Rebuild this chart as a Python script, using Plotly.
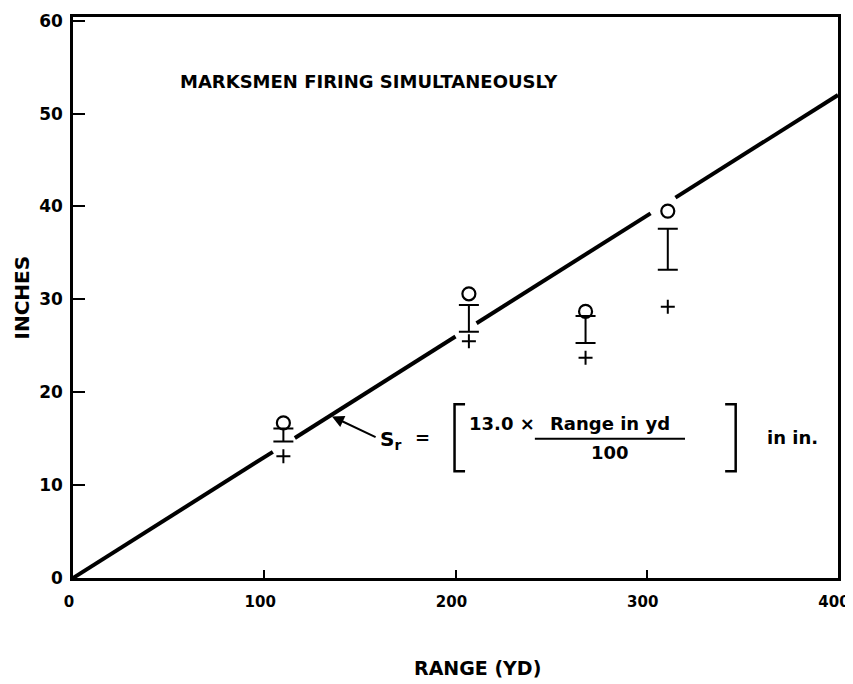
import plotly.graph_objects as go

# ---- data ----
range_yd = [110, 207, 268, 311]
circle_in = [16.7, 30.6, 28.7, 39.5]
bar_top_in = [16.1, 29.4, 28.2, 37.6]
bar_bottom_in = [14.7, 26.5, 25.3, 33.2]
plus_in = [13.1, 25.5, 23.7, 29.2]

slope_per_100yd = 13.0
line_segments = [(0, 104.5), (116, 200), (211, 302), (315, 400)]

x_ticks = [0, 100, 200, 300, 400]
y_ticks = [0, 10, 20, 30, 40, 50, 60]

FONT = "DejaVu Sans"

fig = go.Figure()

# fitted line S_r = 13.0 * range / 100, drawn with gaps near the points
lx, ly = [], []
for a, b in line_segments:
    lx += [a, b, None]
    ly += [slope_per_100yd * a / 100, slope_per_100yd * b / 100, None]
fig.add_trace(go.Scatter(x=lx, y=ly, mode="lines",
                         line=dict(color="black", width=4), hoverinfo="skip"))

# I-bars
mid = [(t + b) / 2 for t, b in zip(bar_top_in, bar_bottom_in)]
half = [(t - b) / 2 for t, b in zip(bar_top_in, bar_bottom_in)]
fig.add_trace(go.Scatter(x=range_yd, y=mid, mode="markers",
                         marker=dict(size=1, color="rgba(0,0,0,0)"),
                         error_y=dict(type="data", array=half, symmetric=True,
                                      color="black", thickness=2, width=10)))

# open circles
fig.add_trace(go.Scatter(x=range_yd, y=circle_in, mode="markers",
                         marker=dict(symbol="circle-open", size=13, color="black",
                                     line=dict(width=2.2, color="black"))))

# plus marks
fig.add_trace(go.Scatter(x=range_yd, y=plus_in, mode="markers",
                         marker=dict(symbol="cross-thin-open", size=10, color="black",
                                     line=dict(width=2, color="black"))))

tfont = dict(family=FONT, size=18, color="black")

ann = []
ann.append(dict(x=55, y=53.5, xref="x", yref="y", text="<b>MARKSMEN FIRING SIMULTANEOUSLY</b>",
                showarrow=False, xanchor="left", yanchor="middle",
                font=dict(family=FONT, size=18, color="black")))
# arrow to the line
ann.append(dict(x=135.4, y=17.4, ax=159, ay=15.1, xref="x", yref="y", axref="x", ayref="y",
                text="", showarrow=True, arrowhead=2, arrowsize=1.2, arrowwidth=2,
                arrowcolor="black"))
ann.append(dict(x=166, y=14.9, xref="x", yref="y", text="<b>S<sub>r</sub></b>",
                showarrow=False, font=dict(family=FONT, size=20, color="black")))
ann.append(dict(x=183, y=15.1, xref="x", yref="y", text="<b>=</b>",
                showarrow=False, font=dict(family=FONT, size=18, color="black")))
ann.append(dict(x=206, y=16.6, xref="x", yref="y", text="<b>13.0 ×</b>",
                showarrow=False, xanchor="left", font=tfont))
ann.append(dict(x=281, y=16.6, xref="x", yref="y", text="<b>Range in yd</b>",
                showarrow=False, font=tfont))
ann.append(dict(x=281, y=13.5, xref="x", yref="y", text="<b>100</b>",
                showarrow=False, font=tfont))
ann.append(dict(x=376, y=15.1, xref="x", yref="y", text="<b>in in.</b>",
                showarrow=False, font=tfont))
# axis titles
ann.append(dict(x=0, y=0.5, xref="paper", yref="paper", text="<b>INCHES</b>",
                textangle=-90, showarrow=False, xanchor="center", yanchor="middle",
                xshift=-52, font=dict(family=FONT, size=20, color="black")))
ann.append(dict(x=0.529, y=0, xref="paper", yref="paper", text="<b>RANGE (YD)</b>",
                showarrow=False, xanchor="center", yanchor="middle",
                yshift=-90, font=dict(family=FONT, size=19, color="black")))

shapes = []
# fraction bar
shapes.append(dict(type="line", xref="x", yref="y", x0=241.5, x1=320, y0=15.0, y1=15.0,
                   line=dict(color="black", width=2)))
# left bracket
shapes.append(dict(type="path", xref="x", yref="y",
                   path="M 205 18.7 L 199.5 18.7 L 199.5 11.5 L 205 11.5",
                   line=dict(color="black", width=2.5)))
# right bracket
shapes.append(dict(type="path", xref="x", yref="y",
                   path="M 341 18.7 L 346.5 18.7 L 346.5 11.5 L 341 11.5",
                   line=dict(color="black", width=2.5)))

fig.update_layout(
    width=845, height=676,
    margin=dict(l=65, r=15, t=3, b=106),
    paper_bgcolor="white", plot_bgcolor="white",
    showlegend=False,
    annotations=ann, shapes=shapes,
    font=dict(family=FONT, color="black"),
)
fig.update_xaxes(range=[0, 400], tickvals=x_ticks,
                 ticktext=[f"<b>{v}</b>" for v in x_ticks],
                 ticks="inside", ticklen=8, tickwidth=1.5, tickcolor="black",
                 ticklabelstandoff=8, ticklabeloverflow="allow", ticklabelshift=-4,
                 showgrid=False, zeroline=False,
                 showline=True, linecolor="black", linewidth=2.5, mirror=True,
                 tickfont=dict(family=FONT, size=15, color="black"))
fig.update_yaxes(range=[0, 60.4], tickvals=y_ticks,
                 ticktext=[f"<b>{v}</b>" for v in y_ticks],
                 ticks="inside", ticklen=12, tickwidth=1.5, tickcolor="black",
                 ticklabelstandoff=4, ticklabeloverflow="allow",
                 showgrid=False, zeroline=False,
                 showline=True, linecolor="black", linewidth=2.5, mirror=True,
                 tickfont=dict(family=FONT, size=17, color="black"))

fig.write_html("out.html")
